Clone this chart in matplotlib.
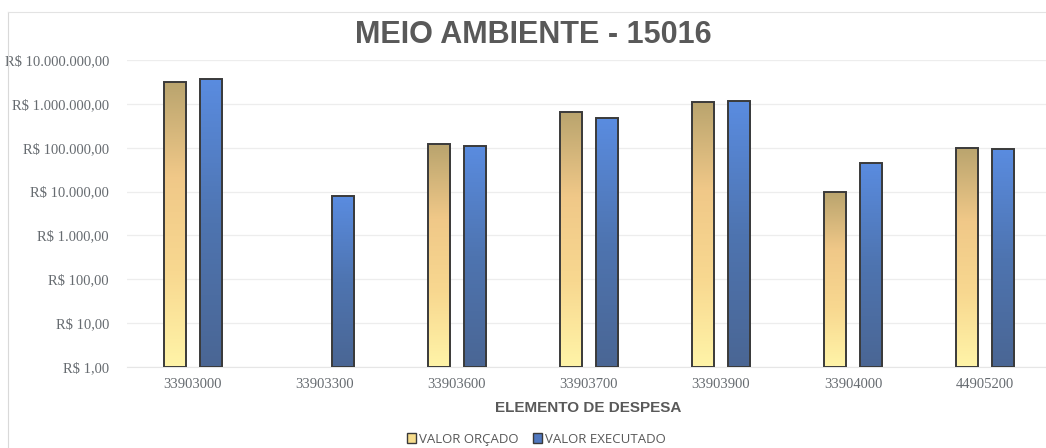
import matplotlib
matplotlib.use("Agg")
import matplotlib.pyplot as plt
import numpy as np
from matplotlib.colors import LinearSegmentedColormap
from matplotlib.lines import Line2D
from matplotlib.patches import Rectangle

# dados
elementos = ["33903000", "33903300", "33903600", "33903700", "33903900", "33904000", "44905200"]
valor_orcado = [3200000, 0, 121000, 660000, 1120000, 9900, 100000]
valor_executado = [3700000, 7900, 110000, 475000, 1150000, 46000, 93000]
y_ticks = [1, 10, 100, 1000, 10000, 100000, 1000000, 10000000]

grey = "#595959"
tick_grey = "#666B70"
cmap_orcado = LinearSegmentedColormap.from_list("orc", ["#FFF4A8", "#F8D890", "#F0C888", "#B9A46E"])
cmap_exec = LinearSegmentedColormap.from_list("exe", ["#4A6694", "#4E74B0", "#5A8CE0"])


def brl(v, pos=None):
    s = f"{v:,.2f}"
    s = s.replace(",", "X").replace(".", ",").replace("X", ".")
    return f"R$ {s}"


fig = plt.figure(figsize=(10.46, 4.48), dpi=100)
ax = fig.add_axes([127 / 1046, 81 / 448, 924 / 1046, 307 / 448])
ax.set_yscale("log")
ax.set_ylim(1, 1e7)
ax.set_xlim(-0.5, len(elementos) - 0.5)

x = np.arange(len(elementos))
width = 0.17
off = 0.135
grad = np.linspace(0, 1, 256).reshape(-1, 1)


def gradient_bar(xc, val, cmap):
    if val <= 0:
        return
    bars = ax.bar(xc, val, width, bottom=1, facecolor="none", edgecolor="#3A3A3A", linewidth=1.4, zorder=3)
    patch = bars[0]
    x0 = (xc - width / 2 + 0.5) / len(elementos)
    x1 = (xc + width / 2 + 0.5) / len(elementos)
    y1 = np.log10(val) / 7
    im = ax.imshow(grad, cmap=cmap, origin="lower", aspect="auto",
                   extent=[x0, x1, 0, y1], transform=ax.transAxes, zorder=2)
    im.set_clip_path(patch)


for i in range(len(elementos)):
    gradient_bar(x[i] - off, valor_orcado[i], cmap_orcado)
    gradient_bar(x[i] + off, valor_executado[i], cmap_exec)

ax.set_xlim(-0.5, len(elementos) - 0.5)
ax.set_ylim(1, 1e7)
ax.set_yticks(y_ticks)
ax.yaxis.set_major_formatter(plt.FuncFormatter(brl))
ax.yaxis.set_minor_locator(matplotlib.ticker.NullLocator())
ax.set_xticks(x)
ax.set_xticklabels(elementos)
for lab in ax.get_xticklabels() + ax.get_yticklabels():
    lab.set_fontfamily("Liberation Serif")
    lab.set_fontsize(10.5)
    lab.set_color(tick_grey)
ax.tick_params(axis="y", length=0, pad=13)
ax.tick_params(axis="x", length=0, pad=8)
ax.grid(axis="y", color="#EDEDED", linewidth=0.9, zorder=0)
ax.set_axisbelow(True)
for s in ["top", "right", "left"]:
    ax.spines[s].set_visible(False)
ax.spines["bottom"].set_color("#E6E6E6")

fig.text(533 / 1046, 1 - 35 / 448, "MEIO AMBIENTE - 15016", ha="center", va="center",
         fontsize=22, fontweight="bold", color=grey, fontfamily="Liberation Sans")
fig.text(588 / 1046, 1 - 408 / 448, "ELEMENTO DE DESPESA", ha="center", va="center",
         fontsize=11, fontweight="bold", color=grey, fontfamily="Liberation Sans")

# legenda
handles = [Rectangle((0, 0), 1, 1, facecolor="#F6DC8C", edgecolor="#3A3A3A", linewidth=1),
           Rectangle((0, 0), 1, 1, facecolor="#5078C0", edgecolor="#3A3A3A", linewidth=1)]
leg = fig.legend(handles, ["VALOR ORÇADO", "VALOR EXECUTADO"], loc="center",
                 bbox_to_anchor=(536 / 1046, 1 - 439 / 448), ncol=2, frameon=False,
                 handlelength=0.7, handleheight=0.7, handletextpad=0.2, columnspacing=1.1,
                 prop={"family": "Open Sans", "size": 9.5})
for t in leg.get_texts():
    t.set_color(grey)

# moldura do grafico
fig.add_artist(Line2D([8 / 1046, 8 / 1046], [0, 1 - 12 / 448], color="#D9D9D9", linewidth=0.8))
fig.add_artist(Line2D([8 / 1046, 1], [1 - 12 / 448, 1 - 12 / 448], color="#E3E3E3", linewidth=0.8))

fig.savefig("out.png", dpi=100)
